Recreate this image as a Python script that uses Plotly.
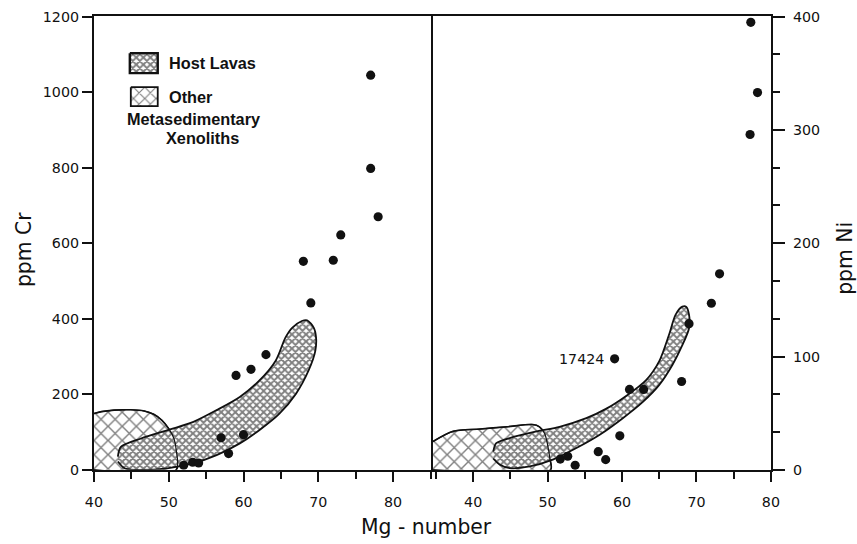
import plotly.graph_objects as go

# ---------------- data ----------------
# Cr (left panel)
cr_mg = [77, 77, 78, 73, 72, 68, 69, 63, 61, 59, 60, 57, 58, 52, 53.2, 54]
cr_ppm = [1045, 798, 670, 622, 555, 552, 442, 305, 266, 250, 93, 85, 43, 12, 20, 18]

# Ni (right panel)
ni_mg = [77.3, 78.2, 77.2, 73.1, 72.0, 69.0, 59.0, 68.0, 61.0, 62.9, 59.7, 56.8, 57.8, 53.7, 51.7, 52.7]
ni_ppm = [395, 333, 296, 173, 147, 129, 98, 78, 71, 71, 30, 16, 9, 4, 9.5, 12]
labelled_sample = "17424"
labelled_index = 6

# field outlines (Mg-number, ppm)
host_cr_x = [43.2, 43.6, 46.3, 50.2, 53.3, 56.4, 59.5, 62.1, 64.3, 65.6, 66.5, 67.8, 68.5, 69.4, 69.7,
             69.6, 68.7, 67.0, 64.8, 62.1, 59.5, 56.4, 53.3, 49.8, 45.4, 44.1, 43.2]
host_cr_y = [35, 61, 83, 107, 127, 158, 193, 236, 289, 350, 376, 394, 396, 376, 350,
             315, 263, 201, 149, 105, 70, 39, 17.5, 4, 0, 4, 22]
xeno_cr_x = [40.0, 41.0, 42.7, 44.9, 46.7, 48.0, 49.1, 50.0, 50.7, 51.0, 51.0, 40.0]
xeno_cr_y = [149, 154, 158, 159, 156, 147, 131, 109, 83, 52.5, 0, 0]

host_ni_x = [42.7, 43.1, 45.4, 48.5, 51.6, 55.2, 57.9, 60.5, 63.2, 65.0, 66.3, 67.2, 68.1, 68.6, 69.0,
             69.0, 68.1, 66.8, 65.0, 62.8, 60.1, 57.0, 53.8, 50.7, 47.6, 44.9, 43.6, 42.7]
host_ni_y = [16, 23.5, 29, 34, 38, 45.6, 54, 65, 79, 96, 119, 137, 144, 144, 137,
             125, 110, 93, 75, 60, 45.6, 31, 19, 9, 3, 1.5, 4.4, 10]
xeno_ni_x = [34.6, 37.3, 40.9, 44.5, 48.0, 48.9, 49.6, 50.0, 50.3, 50.4, 34.6]
xeno_ni_y = [25, 34, 36, 38, 40, 38, 32, 22, 10, 0, 0]

x_ticks = [40, 50, 60, 70, 80]
cr_ticks = [0, 200, 400, 600, 800, 1000, 1200]
ni_ticks = [0, 100, 200, 300, 400]

# ---------------- layout geometry ----------------
W, H = 857, 544
M = 8                      # page body margin
SX, SY = (W + 2 * M) / W, (H + 2 * M) / H   # page is fitted back into the window


def px(s):
    """screen x (px) -> paper fraction"""
    return (s * SX - M) / W


def py(s):
    """screen y (px, from top) -> paper fraction"""
    return 1 - (s * SY - M) / H


def sz(v):
    return v * SX


INK = "#111111"
TICKFONT = dict(family="DejaVu Sans", size=sz(14), color=INK)
HOST_PAT = dict(shape="x", size=5, solidity=0.62, fgcolor="#000000", bgcolor="white")
XENO_PAT = dict(shape="x", size=10, solidity=0.26, fgcolor="#000000", bgcolor="white")

fig = go.Figure()


def field(x, y, pat, xa, ya, lw):
    fig.add_trace(go.Scatter(x=x, y=y, mode="lines", fill="toself", fillpattern=pat,
                             line=dict(color=INK, width=lw, shape="spline", smoothing=0.8),
                             xaxis=xa, yaxis=ya, showlegend=False, hoverinfo="skip"))


def outline(x, y, xa, ya, lw):
    fig.add_trace(go.Scatter(x=x, y=y, mode="lines",
                             line=dict(color=INK, width=lw, shape="spline", smoothing=0.8),
                             xaxis=xa, yaxis=ya, showlegend=False, hoverinfo="skip"))


# left panel
field(xeno_cr_x, xeno_cr_y, XENO_PAT, "x", "y", 1.6)
field(host_cr_x, host_cr_y, HOST_PAT, "x", "y", 1.8)
outline(xeno_cr_x, xeno_cr_y, "x", "y", 1.2)
fig.add_trace(go.Scatter(x=cr_mg, y=cr_ppm, mode="markers",
                         marker=dict(size=sz(9), color=INK), xaxis="x", yaxis="y", showlegend=False))
# right panel
field(xeno_ni_x, xeno_ni_y, XENO_PAT, "x2", "y2", 1.6)
field(host_ni_x, host_ni_y, HOST_PAT, "x2", "y2", 1.8)
outline(xeno_ni_x, xeno_ni_y, "x2", "y2", 1.2)
fig.add_trace(go.Scatter(x=ni_mg, y=ni_ppm, mode="markers",
                         marker=dict(size=sz(9), color=INK), xaxis="x2", yaxis="y2", showlegend=False))

# legend swatches on a screen-pixel overlay
sw_host = ([129, 157, 157, 129, 129], [53, 53, 73, 73, 53])
sw_xeno = ([130, 157, 157, 130, 130], [87, 87, 106, 106, 87])
fig.add_trace(go.Scatter(x=sw_host[0], y=sw_host[1], mode="lines", fill="toself",
                         fillpattern=HOST_PAT, line=dict(color=INK, width=2.4),
                         xaxis="x3", yaxis="y3", showlegend=False, hoverinfo="skip"))
fig.add_trace(go.Scatter(x=sw_xeno[0], y=sw_xeno[1], mode="lines", fill="toself",
                         fillpattern=dict(shape="x", size=8, solidity=0.26, fgcolor="#000000", bgcolor="white"),
                         line=dict(color=INK, width=1.8),
                         xaxis="x3", yaxis="y3", showlegend=False, hoverinfo="skip"))

yd = [py(470), py(16)]
axis_common = dict(showline=True, linewidth=2, linecolor=INK, showgrid=False,
                   zeroline=False, ticks="outside", tickcolor=INK, tickwidth=2,
                   tickfont=TICKFONT)
minor_x = dict(dtick=5, tick0=0, ticks="outside", ticklen=7, tickwidth=2, tickcolor=INK)

fig.update_layout(
    width=W, height=H, margin=dict(l=0, r=0, t=0, b=0),
    paper_bgcolor="white", plot_bgcolor="rgba(0,0,0,0)",
    xaxis=dict(domain=[px(93), px(433)], range=[40, 85.33], tickvals=x_ticks, ticklen=10,
               minor=minor_x, ticklabelstandoff=8, anchor="y", mirror=True, **axis_common),
    yaxis=dict(domain=yd, range=[0, 1201], tickvals=cr_ticks, ticklen=10, anchor="x",
               mirror=False, **axis_common),
    xaxis2=dict(domain=[px(433), px(772)], range=[34.6, 80.02], tickvals=x_ticks, ticklen=10,
                minor=minor_x, ticklabelstandoff=8, anchor="y2", mirror=True, **axis_common),
    yaxis2=dict(domain=yd, range=[0, 400.4], tickvals=ni_ticks, ticklen=12, side="right",
                minor=dict(dtick=100 / 3, tick0=0, ticks="outside", ticklen=7, tickwidth=2, tickcolor=INK),
                ticklabelstandoff=5, anchor="x2", mirror=True, **axis_common),
    xaxis3=dict(domain=[0, 1], range=[M / SX, (W + M) / SX], visible=False, fixedrange=True, anchor="y3"),
    yaxis3=dict(domain=[0, 1], range=[(H + M) / SY, M / SY], visible=False, fixedrange=True, anchor="x3"),
)

TITLEFONT = dict(family="DejaVu Sans", size=sz(20), color=INK)
LEGFONT = dict(family="Liberation Sans", size=sz(16), color=INK, weight="bold")
ann = [
    dict(text="ppm Cr", x=px(23), y=py(250), textangle=-90, font=TITLEFONT),
    dict(text="ppm Ni", x=px(846), y=py(258), textangle=-90, font=TITLEFONT),
    dict(text="Mg - number", x=px(426), y=py(527), font=TITLEFONT),
    dict(text="Host Lavas", x=px(166), y=py(63), xanchor="left", font=LEGFONT),
    dict(text="Other", x=px(166), y=py(97), xanchor="left", font=LEGFONT),
    dict(text="Metasedimentary", x=px(192.5), y=py(119), font=LEGFONT),
    dict(text="Xenoliths", x=px(201.5), y=py(138), font=LEGFONT),
]
for a in ann:
    a.setdefault("xanchor", "center")
    fig.add_annotation(xref="paper", yref="paper", yanchor="middle", showarrow=False, **a)

fig.add_annotation(x=ni_mg[labelled_index], y=ni_ppm[labelled_index], xref="x2", yref="y2",
                   text=labelled_sample, xanchor="right", yanchor="middle", xshift=-9,
                   showarrow=False, font=TICKFONT)

fig.write_html("out.html")
